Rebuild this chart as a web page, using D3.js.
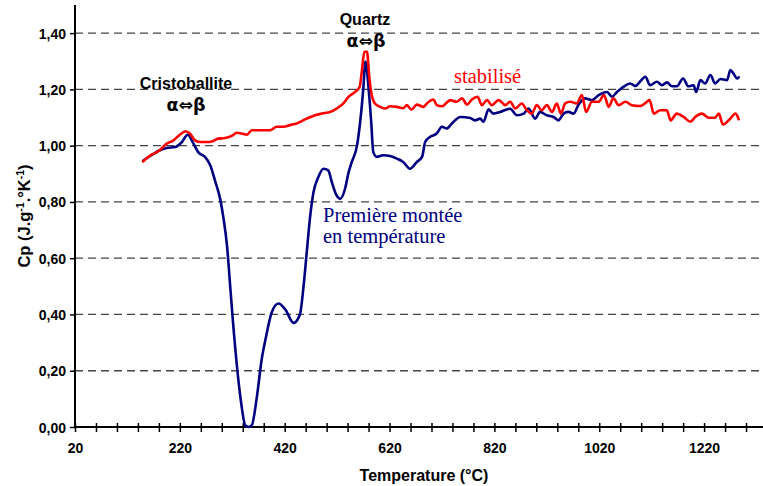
<!DOCTYPE html>
<html>
<head>
<meta charset="utf-8">
<script src="https://cdn.jsdelivr.net/npm/d3@7"></script>
<style>
  html, body { margin: 0; padding: 0; background: #fff; }
  svg { display: block; }
</style>
</head>
<body>
<script>
// Heat capacity Cp (J.g-1.°K-1) versus temperature (°C)

// First heating run ("Première montée en température")
const firstRunT = [150,165,179,195,211,224,235,246,255,268,278,287,297,303,310,316,321,329,337,345,351,357,367,376,384,395,408,421,437,449,456,462,468,475,484,494,503,510,519,526,535,542,548,558,564,570,574,580,585,589,596,608,621,634,646,659,672,682,688,697,710,720,729,739,755,774,783,793,799,809,818,831,850,863,876,885,898,907,920,933,942,952,961,971,980,993,1006,1019,1035,1044,1054,1066,1079,1089,1098,1108,1117,1130,1140,1149,1159,1168,1180,1190,1200,1205,1213,1222,1232,1241,1251,1264,1270,1276,1283,1286];
const firstRunCp = [0.947,0.965,0.981,0.992,0.995,1.013,1.039,1.007,0.977,0.960,0.930,0.876,0.810,0.745,0.644,0.501,0.382,0.215,0.085,0.005,0.000,0.005,0.108,0.239,0.317,0.406,0.439,0.418,0.370,0.400,0.501,0.620,0.739,0.835,0.888,0.918,0.912,0.870,0.823,0.811,0.846,0.906,0.942,1.001,1.085,1.204,1.299,1.204,1.085,0.977,0.960,0.966,0.963,0.954,0.942,0.918,0.942,0.960,1.013,1.031,1.043,1.067,1.061,1.079,1.102,1.098,1.090,1.096,1.085,1.129,1.114,1.120,1.131,1.108,1.114,1.132,1.096,1.120,1.108,1.102,1.090,1.114,1.120,1.114,1.144,1.168,1.162,1.180,1.191,1.174,1.191,1.209,1.221,1.212,1.228,1.245,1.215,1.227,1.215,1.225,1.211,1.211,1.239,1.211,1.215,1.191,1.233,1.221,1.251,1.221,1.237,1.233,1.269,1.257,1.239,1.243];

// Stabilised sample ("stabilisé")
const stableT = [150,166,179,195,208,220,231,239,249,259,271,281,293,306,319,329,338,348,357,373,392,405,418,430,443,462,478,491,507,519,532,542,554,563,567,572,577,581,586,592,602,612,621,634,646,653,662,672,685,691,704,710,720,736,748,758,768,777,788,796,806,815,828,841,850,860,872,882,891,901,910,920,930,939,947,955,965,977,987,995,1006,1019,1029,1038,1047,1057,1070,1082,1098,1111,1116,1124,1136,1149,1156,1168,1181,1194,1203,1216,1229,1241,1248,1256,1267,1280,1286];
const stableCp = [0.944,0.968,0.980,1.007,1.019,1.039,1.051,1.043,1.019,1.013,1.013,1.015,1.025,1.027,1.035,1.046,1.043,1.039,1.055,1.055,1.055,1.067,1.067,1.073,1.079,1.096,1.108,1.114,1.120,1.132,1.150,1.174,1.191,1.209,1.262,1.334,1.334,1.251,1.180,1.150,1.138,1.132,1.140,1.138,1.133,1.144,1.128,1.146,1.138,1.150,1.164,1.144,1.140,1.162,1.156,1.168,1.146,1.164,1.174,1.144,1.162,1.144,1.162,1.144,1.156,1.132,1.150,1.126,1.114,1.144,1.126,1.144,1.120,1.150,1.114,1.150,1.156,1.150,1.180,1.120,1.156,1.156,1.180,1.138,1.168,1.144,1.156,1.144,1.141,1.156,1.162,1.114,1.126,1.126,1.090,1.114,1.102,1.085,1.102,1.114,1.099,1.099,1.114,1.075,1.090,1.114,1.094];

// Axis ticks
const yTicks = [0, 0.2, 0.4, 0.6, 0.8, 1.0, 1.2, 1.4];
const xTicks = d3.range(20, 1341, 40);
const xLabels = [20, 220, 420, 620, 820, 1020, 1220];

const W = 763, H = 486;
const svg = d3.select("body").append("svg").attr("width", W).attr("height", H);

const x = d3.scaleLinear().domain([20, 1340]).range([75, 767]);
const y = d3.scaleLinear().domain([0, 1.5]).range([427, 5]);

const sans = "'Liberation Sans', Arial, sans-serif";
const symbolFont = "'DejaVu Sans', sans-serif";
const serif = "'Liberation Serif', 'Times New Roman', serif";

// Dashed horizontal gridlines
svg.append("g").selectAll("line")
  .data(yTicks.filter(d => d > 0))
  .join("line")
  .attr("x1", x(20)).attr("x2", W)
  .attr("y1", d => y(d)).attr("y2", d => y(d))
  .attr("stroke", "#444").attr("stroke-width", 1.3)
  .attr("stroke-dasharray", "8,5");

// Y axis
const yAxis = svg.append("g")
  .attr("transform", `translate(${x(20)},0)`)
  .call(d3.axisLeft(y).tickValues(yTicks).tickSize(5).tickSizeOuter(0)
    .tickFormat(d => d.toFixed(2).replace(".", ",")));
yAxis.select(".domain").attr("stroke", "#000").attr("stroke-width", 2)
  .attr("d", `M0,${y(0)}V5`);
yAxis.selectAll(".tick line").attr("stroke", "#000").attr("stroke-width", 1.5);
yAxis.selectAll(".tick text")
  .attr("x", -9).attr("dy", "0.36em")
  .attr("font-family", sans).attr("font-weight", "bold").attr("font-size", 14).attr("fill", "#000");

// X axis with ticks crossing the baseline
const xAxis = svg.append("g")
  .attr("transform", `translate(0,${y(0)})`)
  .call(d3.axisBottom(x).tickValues(xTicks).tickSize(5).tickSizeOuter(0)
    .tickFormat(d => xLabels.includes(d) ? String(d) : ""));
xAxis.select(".domain").attr("stroke", "#000").attr("stroke-width", 2)
  .attr("d", `M${x(20)},0H${W}`);
xAxis.selectAll(".tick line").attr("y1", -4).attr("y2", 5)
  .attr("stroke", "#000").attr("stroke-width", 1.5);
xAxis.selectAll(".tick text")
  .attr("y", 26).attr("dy", 0)
  .attr("font-family", sans).attr("font-weight", "bold").attr("font-size", 14).attr("fill", "#000");

// Axis titles
svg.append("text")
  .attr("x", 424).attr("y", 481).attr("text-anchor", "middle")
  .attr("font-family", sans).attr("font-weight", "bold").attr("font-size", 16)
  .text("Temperature (°C)");

const yTitle = svg.append("text")
  .attr("transform", "translate(30,216) rotate(-90)")
  .attr("text-anchor", "middle")
  .attr("font-family", sans).attr("font-weight", "bold").attr("font-size", 16.5);
yTitle.append("tspan").text("Cp (J.g");
yTitle.append("tspan").attr("baseline-shift", "super").attr("font-size", 10.5).text("-1");
yTitle.append("tspan").text(".°K");
yTitle.append("tspan").attr("baseline-shift", "super").attr("font-size", 10.5).text("-1");
yTitle.append("tspan").text(")");

// Curves
const line = d3.line().x(d => x(d[0])).y(d => y(d[1])).curve(d3.curveMonotoneX);
const firstRun = firstRunT.map((t, i) => [t, firstRunCp[i]]);
const stable = stableT.map((t, i) => [t, stableCp[i]]);

svg.append("path").datum(firstRun)
  .attr("d", line).attr("fill", "none")
  .attr("stroke", "#000080").attr("stroke-width", 2.6)
  .attr("stroke-linejoin", "round").attr("stroke-linecap", "round");

svg.append("path").datum(stable)
  .attr("d", line).attr("fill", "none")
  .attr("stroke", "#ff0000").attr("stroke-width", 2.6)
  .attr("stroke-linejoin", "round").attr("stroke-linecap", "round");

// Phase transition annotations
const notes = [
  { text: "Cristoballite", cx: 186, by: 89, font: sans, size: 16 },
  { text: "α⇔β", cx: 186, by: 111, font: symbolFont, size: 17.5 },
  { text: "Quartz", cx: 365, by: 25, font: sans, size: 16 },
  { text: "α⇔β", cx: 366, by: 47, font: symbolFont, size: 17.5 }
];
svg.append("g").selectAll("text").data(notes).join("text")
  .attr("x", d => d.cx).attr("y", d => d.by).attr("text-anchor", "middle")
  .attr("font-family", d => d.font).attr("font-weight", "bold").attr("font-size", d => d.size)
  .text(d => d.text);

// Series labels
svg.append("text")
  .attr("x", 454).attr("y", 83)
  .attr("font-family", serif).attr("font-size", 20.5).attr("fill", "#ff0000")
  .text("stabilisé");

const runLabel = svg.append("text")
  .attr("font-family", serif).attr("font-size", 20.5).attr("fill", "#000080");
runLabel.append("tspan").attr("x", 323).attr("y", 222).text("Première montée");
runLabel.append("tspan").attr("x", 323).attr("y", 243).text("en température");
</script>
</body>
</html>
